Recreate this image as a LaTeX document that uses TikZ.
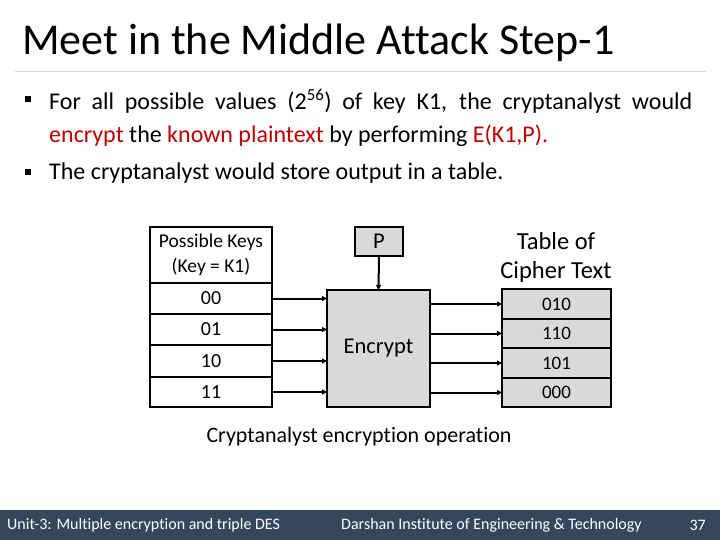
\documentclass[tikz,border=0pt]{standalone}
\usepackage{fontspec}
\setmainfont{Carlito}[Ligatures=NoCommon]
\usepackage{xcolor}
\usetikzlibrary{arrows.meta, positioning}
\hyphenpenalty=10000
\definecolor{hilite}{RGB}{192, 0, 0}
\definecolor{boxgray}{RGB}{217, 217, 217}
\definecolor{rulegray}{RGB}{215, 215, 215}
\definecolor{footbar}{RGB}{52, 71, 92}
\tikzset{
    keycell/.style ={draw=black, line width=1.6pt, fill=white, outer sep=0pt,
                     minimum width=122pt, minimum height=31pt, inner sep=0pt,
                     align=center, font=\fontsize{20}{24}\selectfont},
    ctcell/.style  ={keycell, fill=boxgray, line width=2.2pt, minimum width=109pt,
                     minimum height=29.5pt, font=\fontsize{19}{22}\selectfont},
    unit/.style    ={draw=black, line width=2.4pt, fill=boxgray, outer sep=0pt,
                     inner sep=0pt, align=center, font=\fontsize{22.5}{26}\selectfont},
    ar/.style      ={-{Triangle[length=5pt, width=5pt]}, line width=2pt},
    bullet/.style  ={fill=black, minimum size=6pt, inner sep=0pt},
    para/.style    ={anchor=north west, inner sep=0pt, text width=643pt,
                     align=justify, font=\fontsize{24}{33}\selectfont},
    foot/.style    ={text=white, inner sep=0pt, font=\fontsize{16}{18}\selectfont}
}
\newcommand{\hl}[1]{\textcolor{hilite}{#1}}

\begin{document}
\begin{tikzpicture}[x=1pt, y=-1pt]
  \useasboundingbox (0,0) rectangle (720,540);

  % heading
  \node[anchor=base west, inner sep=0pt, font=\fontsize{44}{50}\selectfont] (title) at (22,55)
        {Meet in the Middle Attack Step-1};
  \draw[rulegray, line width=1pt] (15,72) -- (706,72);

  % bullets
  \node[bullet] (b1) at (28,99.5) {};
  \node[para] (p1) at (49,89)
        {For all possible values (2\textsuperscript{56}) of key K1, the cryptanalyst would
         \hl{encrypt} the \hl{known plaintext} by performing \hl{E(K1,P).}};
  \node[bullet] (b2) at (28,172) {};
  \node[para] (p2) at (49,163) {The cryptanalyst would store output in a table.};

  % key table
  \node[keycell, minimum height=56pt, font=\fontsize{19.5}{25}\selectfont] (khead) at (211,255)
        {Possible Keys\\(Key = K1)};
  \node[keycell] (k00) at (211,298.5) {00};
  \node[keycell] (k01) at (211,329.5) {01};
  \node[keycell] (k10) at (211,361)   {10};
  \node[keycell, minimum height=30pt] (k11) at (211,392) {11};

  % encryption unit
  \node[unit, minimum width=48pt, minimum height=29pt] (ptxt) at (379,241.5) {P};
  \node[unit, minimum width=103pt, minimum height=117pt] (enc) at (378.5,348.5) {Encrypt};

  % cipher text table
  \node[align=center, inner sep=0pt, font=\fontsize{24.5}{29}\selectfont] (cthead) at (556,257)
        {Table of\\Cipher Text};
  \node[ctcell] (c010) at (556.5,304)   {010};
  \node[ctcell] (c110) at (556.5,333.5) {110};
  \node[ctcell] (c101) at (556.5,363)   {101};
  \node[ctcell] (c000) at (556.5,392.5) {000};

  \draw[ar] (ptxt.south) -- (enc.north);
  \draw[ar] (k00.east) -- (enc.west |- k00.east);
  \draw[ar] (k01.east) -- (enc.west |- k01.east);
  \draw[ar] (k10.east) -- (enc.west |- k10.east);
  \draw[ar] (k11.east) -- (enc.west |- k11.east);
  \draw[ar] (enc.east |- c010.west) -- (c010.west);
  \draw[ar] (enc.east |- c110.west) -- (c110.west);
  \draw[ar] (enc.east |- c101.west) -- (c101.west);
  \draw[ar] (enc.east |- c000.west) -- (c000.west);

  \node[inner sep=0pt, font=\fontsize{22}{26}\selectfont] (caption) at (359,437)
        {Cryptanalyst encryption operation};

  % footer
  \fill[footbar] (0,510) rectangle (720,540);
  \node[foot, anchor=west] (unit) at (7,525) {Unit-3: Multiple encryption and triple DES};
  \node[foot, anchor=west] (inst) at (341,525) {Darshan Institute of Engineering \& Technology};
  \node[foot, anchor=east] (page) at (706,525) {37};
\end{tikzpicture}
\end{document}
